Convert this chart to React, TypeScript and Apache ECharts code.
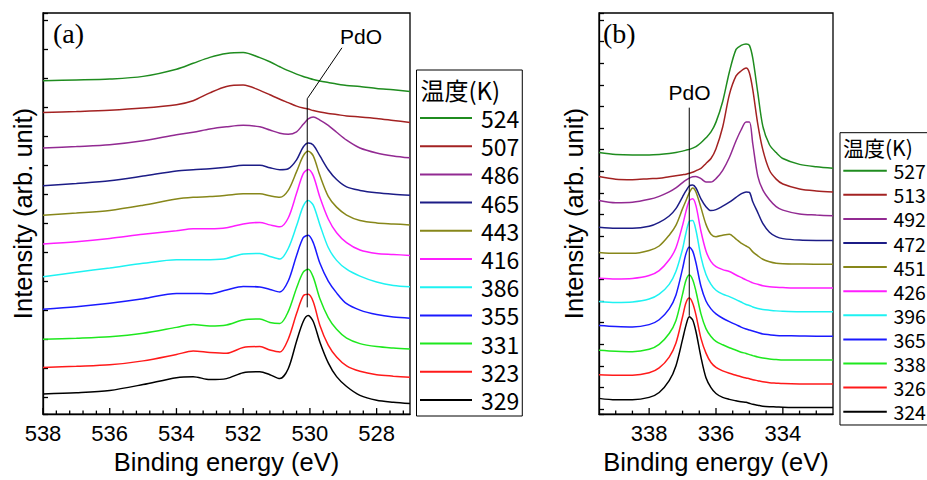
import React, { useEffect, useRef } from 'react';
import * as echarts from 'echarts';

// ---------- O 1s panel (a) ----------
const energyA = [538, 537, 536, 535, 534, 533.5, 533, 532.5, 532, 531.5, 531.2, 530.9, 530.65, 530.4, 530.2, 530.05, 529.9, 529.7, 529.45, 529.2, 528.9, 528.5, 528, 527.5, 527];

const a524 = [321.3, 322, 323, 325.7, 333, 339, 345, 349, 350, 344.7, 340.5, 335.5, 331.5, 328, 325.5, 324, 322.5, 321, 319.5, 318, 316.5, 315.5, 313.5, 312, 310.3];
const a507 = [289, 290, 291.3, 293.5, 297, 301, 309, 315.5, 317, 311.5, 307, 302.5, 299, 295.5, 293.5, 292.5, 291, 289.5, 288, 287, 285.5, 284.5, 283, 281, 279];
const a486 = [253, 254.5, 256.3, 260.3, 266.5, 269, 272.3, 274.5, 276, 274.5, 271.3, 268, 267, 269.5, 277, 282.5, 284.5, 281.3, 276, 269, 261, 253, 248, 245, 243];
const a465 = [214.7, 217, 219.7, 224.5, 229.7, 231, 232, 233.5, 235.5, 235.5, 233, 231, 232, 241, 254, 258, 256, 245, 231, 221, 213.5, 210, 207.5, 206, 205];
const a443 = [184.7, 187, 189.7, 195, 201.3, 203, 203.7, 205, 206.5, 206.5, 204.5, 203, 210, 229, 245, 249.7, 245, 225, 204, 193, 185, 179.5, 177, 176, 175];
const a416 = [155.7, 158, 161.3, 165.5, 169, 171, 171, 172, 176, 177.5, 175, 173, 182, 207, 227, 231.3, 225, 203, 181, 167, 157, 149.5, 146, 145, 144];
const a386 = [122.3, 127, 131.3, 136, 139.7, 139.5, 139.7, 141, 145.5, 146, 143, 140.3, 151, 174, 194, 199.7, 195, 175, 152, 139, 130, 123, 117, 113.5, 112.3];
const a355 = [89.5, 92, 95.5, 100, 105.5, 105.5, 105, 109, 112.5, 112, 109.5, 107, 118, 144, 162, 164.5, 157, 136, 118, 106, 95, 88.5, 84, 81.5, 80.3];
const a331 = [59, 60, 61.5, 65, 71, 74, 72.5, 73.5, 78.5, 79.5, 76, 75, 87, 111, 127, 130, 122, 100, 81, 69, 60, 54.5, 51.5, 50, 49];
const a323 = [30.3, 31.5, 33, 37, 43.5, 47, 45.5, 44.7, 50.5, 51.5, 48, 46, 59, 85, 103, 104.5, 97, 73, 53, 41, 32, 26.5, 23, 21.5, 20.3];
const a329 = [3.5, 4.7, 7, 13, 20, 21, 18, 19, 25, 26, 23, 19, 29, 57, 77, 83, 77, 56, 35, 21, 11, 2, -3, -5, -6.3];

const tempsA = ['524', '507', '486', '465', '443', '416', '386', '355', '331', '323', '329'];
const curvesA = [a524, a507, a486, a465, a443, a416, a386, a355, a331, a323, a329];

// PdO marker for panel (a): vertical at the peak, then a slanted leader to the label
const pdoLeaderA = [[530.08, 91.3], [530.08, 303], [529.04, 354.7]];

// energy-axis tick marks of panel (a): every 2 eV, minor every 0.4 eV
const majorTicksA = [538, 536, 534, 532, 530, 528];
const minorTicksA = [537.6, 537.2, 536.8, 536.4, 535.6, 535.2, 534.8, 534.4, 533.6, 533.2, 532.8, 532.4, 531.6, 531.2, 530.8, 530.4, 529.6, 529.2, 528.8, 528.4, 527.6, 527.2];

// ---------- Pd 3d panel (b) ----------
const energyB = [339.5, 339, 338.5, 338, 337.7, 337.4, 337.2, 337.0, 336.9, 336.8, 336.7, 336.6, 336.45, 336.3, 336.15, 336.0, 335.8, 335.6, 335.4, 335.25, 335.1, 335.0, 334.9, 334.75, 334.6, 334.4, 334.2, 334, 333.5, 333, 332.5];

const b527 = [261, 259, 258.5, 258.5, 259, 260, 261, 262.5, 263.5, 264.3, 265.5, 267, 271, 276, 282, 292, 313, 343, 366, 370, 371.5, 370, 357, 322, 288, 269, 261, 255, 249, 246.5, 245];
const b513 = [236.7, 234, 233.5, 234.5, 235, 236.5, 237.5, 238.5, 239, 240, 241, 242.5, 245, 250, 255, 265, 287, 320, 339, 344, 347, 342, 325, 290, 264, 243, 234, 229, 224, 222, 221];
const b492 = [212.3, 210, 210.5, 213.5, 216.5, 221, 225, 230.5, 233, 235, 236.5, 236.7, 234.5, 231, 231, 234.5, 243, 256, 273, 284, 292, 292, 270, 237, 223, 213, 206, 202.5, 198.5, 197.5, 196.7];
const b472 = [185, 184, 184, 186, 190, 196.5, 204, 216, 222, 227, 228, 225, 214, 206, 202, 203, 206.5, 210.5, 215.5, 219, 221, 220.5, 211, 200, 189, 180, 175.5, 173.5, 172, 171.7, 171.7];
const b451 = [159.5, 158.5, 158.5, 161.5, 166, 177, 187, 204, 212, 220, 225, 221, 205, 188, 178, 175.5, 177, 178, 173, 169, 166, 164, 160, 156, 152.5, 150, 148.5, 148, 147.7, 147.5, 147.5];
const b426 = [133.3, 132.5, 133, 136, 141, 152, 164, 187, 201, 212, 214, 207, 181, 161, 150, 145, 142, 140, 136.5, 134, 131.5, 130, 128.5, 127, 125.5, 124.5, 124, 123.7, 123.3, 123.3, 123.3];
const b396 = [109.5, 108.5, 109, 112, 117, 127, 140, 163, 179, 191, 192, 182, 155, 137, 127, 121, 117, 114.5, 111.5, 109, 106.5, 105.5, 104, 102.5, 101.5, 100.7, 100, 99.5, 99, 99, 99];
const b365 = [85, 84, 83.5, 86, 91, 102, 116, 143, 158, 165, 161, 149, 125, 110, 102, 97, 92.5, 89, 86, 83.5, 81.5, 80.5, 79.5, 78, 76.5, 75.7, 75, 74.7, 74.5, 74.3, 74.3];
const b338 = [60, 59, 58.5, 61, 66, 77, 90, 117, 131, 136.5, 132, 120, 97, 82, 74, 69, 65.5, 62.5, 60, 58, 56.7, 55.5, 54.5, 53, 52, 51, 50.5, 50, 50, 50, 50];
const b326 = [35, 34.5, 34.5, 37, 42, 53, 67, 94, 108, 113, 108, 96, 72, 57, 47.5, 42.5, 39, 36.5, 34.5, 33, 31.7, 31, 30, 29, 28, 27, 26.5, 26, 25.7, 25.7, 25.7];
const b324 = [11, 9.5, 9.5, 12, 17, 29, 44, 71, 85, 94, 91, 79, 53, 32, 22, 16, 12, 10, 8.5, 7.5, 7, 6, 5, 4, 3, 2.5, 2.3, 2, 1.7, 1.7, 1.7];

const tempsB = ['527', '513', '492', '472', '451', '426', '396', '365', '338', '326', '324'];
const curvesB = [b527, b513, b492, b472, b451, b426, b396, b365, b338, b326, b324];

const pdoLeaderB = [[336.8, 95], [336.8, 306.7]];

// energy-axis tick marks of panel (b): every 2 eV, minor every 0.5 eV
const majorTicksB = [338, 336, 334];
const minorTicksB = [339, 338.5, 337.5, 337, 336.5, 335.5, 335, 334.5, 333.5, 333];

// Constant background added to every trace of a panel, so the intensity
// range never crosses zero and the energy axis stays on the frame's bottom edge.
const backgroundA = 147;
const backgroundB = 22;
const intensityMinA = 130;
const intensityMinB = 17;

// one colour per temperature step, hottest first
const palette = ['#1f8c1f', '#a32222', '#922a92', '#1c1c86', '#87871a', '#ff1eff', '#1ef2f2', '#1a1aff', '#1ee81e', '#ff1a1a', '#000000'];

const SANS = '"Liberation Sans", Arial, sans-serif';
const CJK = '"Noto Sans CJK JP", sans-serif';
const SERIF = '"Liberation Serif", "Times New Roman", serif';

function spectrumSeries(names: string[], curves: number[][], energy: number[], axis: number, background: number) {
  return curves.map((vals, i) => ({
    type: 'line',
    name: names[i],
    xAxisIndex: axis,
    yAxisIndex: axis,
    data: energy.map((e, j) => [e, vals[j] + background]),
    smooth: 0.3,
    symbol: 'none',
    silent: true,
    lineStyle: { color: palette[i], width: 1.5 },
    itemStyle: { color: palette[i] },
    z: 2,
  }));
}

function leaderSeries(points: number[][], axis: number, background: number) {
  return {
    type: 'line',
    name: 'PdO',
    xAxisIndex: axis,
    yAxisIndex: axis,
    data: points.map(([e, v]) => [e, v + background]),
    symbol: 'none',
    silent: true,
    lineStyle: { color: '#000', width: 1 },
    z: 5,
  };
}

// inward tick marks on the energy axis, placed through the axis scale
function energyTickSeries(major: number[], minor: number[], axis: number, yMin: number) {
  return {
    type: 'custom',
    name: 'ticks',
    xAxisIndex: axis,
    yAxisIndex: axis,
    silent: true,
    clip: false,
    z: 6,
    data: [...major.map((e) => [e, 1]), ...minor.map((e) => [e, 0])],
    renderItem: (_params: any, api: any) => {
      const p = api.coord([api.value(0), yMin]);
      const len = api.value(1) === 1 ? 6 : 3.5;
      return {
        type: 'line',
        shape: { x1: p[0], y1: p[1], x2: p[0], y2: p[1] - len },
        style: { stroke: '#000', lineWidth: 1.3 },
      };
    },
  };
}

function energyAxis(grid: number, min: number, max: number, hideMax: boolean) {
  return {
    type: 'value',
    gridIndex: grid,
    min,
    max,
    inverse: true,
    minInterval: 2,
    maxInterval: 2,
    name: 'Binding energy (eV)',
    nameLocation: 'middle',
    nameGap: 31,
    nameTextStyle: { fontSize: 25.5, fontFamily: SANS, color: '#000' },
    axisLine: { show: true, onZero: false, lineStyle: { color: '#000', width: 1.3 } },
    axisTick: { show: false },
    minorTick: { show: false },
    axisLabel: { show: true, fontSize: 22, fontFamily: SANS, color: '#000', margin: 8, showMinLabel: false, showMaxLabel: !hideMax },
    splitLine: { show: false },
  };
}

function intensityAxis(grid: number, min: number, max: number, step: number, gap: number) {
  return {
    type: 'value',
    gridIndex: grid,
    min,
    max,
    minInterval: step,
    maxInterval: step,
    name: 'Intensity (arb. unit)',
    nameLocation: 'middle',
    nameRotate: 90,
    nameGap: gap,
    nameTextStyle: { fontSize: 25.5, fontFamily: SANS, color: '#000' },
    axisLine: { show: true, onZero: false, lineStyle: { color: '#000', width: 1.3 } },
    axisTick: { show: true, inside: true, length: 5, lineStyle: { color: '#000', width: 1.3 } },
    axisLabel: { show: false },
    splitLine: { show: false },
  };
}

function tempLegend(names: string[], left: number, top: number, opts: any) {
  return {
    data: names,
    orient: 'vertical',
    left,
    top,
    selectedMode: false,
    icon: 'rect',
    padding: opts.padding,
    itemWidth: opts.itemWidth,
    itemHeight: 2,
    itemGap: opts.itemGap,
    borderColor: '#000',
    borderWidth: 1,
    backgroundColor: '#fff',
    textStyle: { fontSize: opts.fontSize, lineHeight: opts.lineHeight, fontFamily: CJK, color: '#000', padding: [0, 0, 0, opts.textPad] },
  };
}

export default function App() {
  const ref = useRef<HTMLDivElement>(null);

  useEffect(() => {
    if (!ref.current) return;
    const chart = echarts.init(ref.current, null, { renderer: 'svg' });

    const option: any = {
      animation: false,
      backgroundColor: '#fff',
      grid: [
        { left: 43, top: 13, width: 367, height: 407, show: true, borderColor: '#000', borderWidth: 1.3 },
        { left: 599, top: 13, width: 234, height: 407, show: true, borderColor: '#000', borderWidth: 1.3 },
      ],
      xAxis: [
        energyAxis(0, 527, 538, false),
        energyAxis(1, 332.5, 339.5, true),
      ],
      yAxis: [
        intensityAxis(0, intensityMinA, 537, 29.4, 7),
        intensityAxis(1, intensityMinB, 425, 22, 12),
      ],
      legend: [
        tempLegend(tempsA, 416.5, 70, { padding: [36, 3, 4, 3.5], itemWidth: 52, itemGap: 4.2, fontSize: 23, lineHeight: 24, textPad: 4 }),
        tempLegend(tempsB, 840, 132.7, { padding: [27, 6, 2.3, 3.3], itemWidth: 43.5, itemGap: 2.1, fontSize: 19.5, lineHeight: 22, textPad: 1.6 }),
      ],
      series: [
        ...spectrumSeries(tempsA, curvesA, energyA, 0, backgroundA),
        leaderSeries(pdoLeaderA, 0, backgroundA),
        energyTickSeries(majorTicksA, minorTicksA, 0, intensityMinA),
        ...spectrumSeries(tempsB, curvesB, energyB, 1, backgroundB),
        leaderSeries(pdoLeaderB, 1, backgroundB),
        energyTickSeries(majorTicksB, minorTicksB, 1, intensityMinB),
      ],
      graphic: [
        { type: 'text', x: 53, y: 33, style: { text: '(a)', font: `28px ${SERIF}`, fill: '#000', verticalAlign: 'middle' } },
        { type: 'text', x: 603, y: 33, style: { text: '(b)', font: `28px ${SERIF}`, fill: '#000', verticalAlign: 'middle' } },
        { type: 'text', x: 361, y: 36, style: { text: 'PdO', font: `21px ${SANS}`, fill: '#000', align: 'center', verticalAlign: 'middle' } },
        { type: 'text', x: 689.5, y: 92.5, style: { text: 'PdO', font: `21px ${SANS}`, fill: '#000', align: 'center', verticalAlign: 'middle' } },
        { type: 'text', x: 420.5, y: 89, z: 10, style: { text: '温度(K)', font: `24px ${CJK}`, fill: '#000', verticalAlign: 'middle' } },
        { type: 'text', x: 843, y: 147, z: 10, style: { text: '温度(K)', font: `21px ${CJK}`, fill: '#000', verticalAlign: 'middle' } },
      ],
    };

    chart.setOption(option);
    return () => chart.dispose();
  }, []);

  return (
    <div
      ref={ref}
      style={{ position: 'absolute', left: 0, top: 0, width: 927, height: 480, background: '#fff' }}
    />
  );
}
